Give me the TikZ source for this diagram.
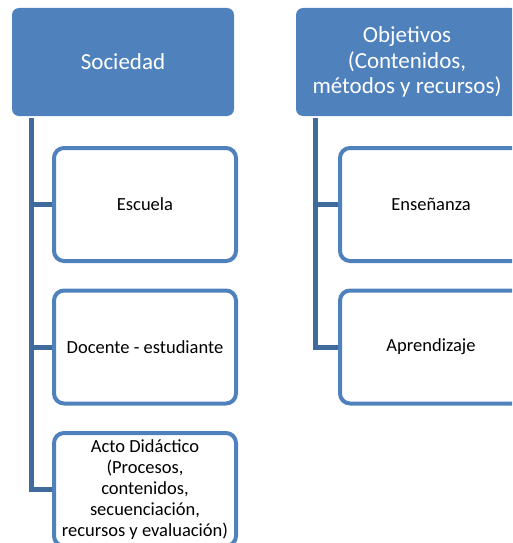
\documentclass[tikz,border=0pt]{standalone}
\usepackage{fontspec}
\setmainfont{Carlito}
\usepackage{tikz}
\usetikzlibrary{positioning, calc}
\definecolor{accentblue}{HTML}{4F81BD}
\definecolor{linkblue}{HTML}{3E6A9C}

\tikzset{
  headbox/.style={rectangle, rounded corners=7pt, fill=accentblue, text=white,
    minimum width=222pt, minimum height=108pt, inner sep=0pt, align=center,
    font=\fontsize{23}{25.3}\selectfont},
  itembox/.style={rectangle, rounded corners=10pt, draw=accentblue, line width=4pt,
    fill=white, text=black, minimum width=182pt, minimum height=113pt,
    inner sep=0pt, align=center, font=\fontsize{18.5}{21}\selectfont},
  link/.style={draw=linkblue, line width=5pt}
}

\begin{document}
\begin{tikzpicture}[x=1pt, y=-1pt]
    % Page
    \useasboundingbox (0,0) rectangle (512,543);
    \clip (0,0) rectangle (512,543);

    % Left column
    \node[headbox] (soc) at (123,62) {Sociedad};
    \node[itembox] (esc) at (145,204.5) {Escuela};
    \node[itembox] (doc) at (145,347) {Docente - estudiante};
    \node[itembox] (acto) at (145,489.5) {Acto Didáctico\\(Procesos,\\contenidos,\\secuenciación,\\recursos y evaluación)};

    % Right column
    \node[headbox] (obj) at (407,62) {Objetivos\\(Contenidos,\\métodos y recursos)};
    \node[itembox] (ens) at (431,204.5) {Enseñanza};
    \node[itembox] (apr) at (431,347) {Aprendizaje};

    % Connectors
    \coordinate (socroot) at ([xshift=19.5pt,yshift=-2pt]soc.south west);
    \coordinate (objroot) at ([xshift=19.5pt,yshift=-2pt]obj.south west);
    \draw[link] (socroot) |- (acto.west);
    \draw[link] (socroot |- esc.west) -- (esc.west);
    \draw[link] (socroot |- doc.west) -- (doc.west);
    \draw[link] (objroot) |- (apr.west);
    \draw[link] (objroot |- ens.west) -- (ens.west);
\end{tikzpicture}
\end{document}
